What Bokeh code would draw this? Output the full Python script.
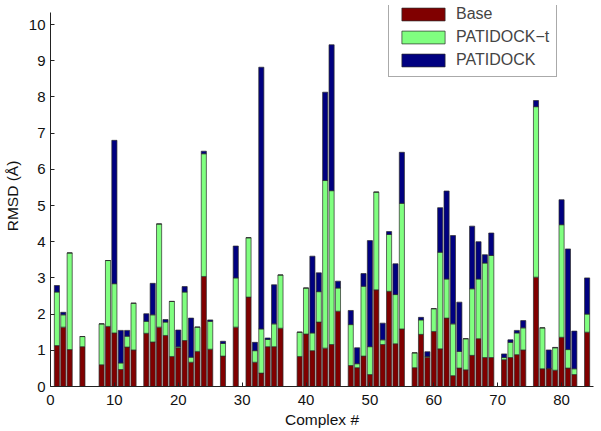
import numpy as np
from bokeh.plotting import figure
from bokeh.models import ColumnDataSource, Range1d, Legend, LegendItem, FixedTicker
from bokeh.embed import file_html
from bokeh.resources import INLINE

complexes = list(range(1, 85))
# cumulative tops (0 = no bar)
base_top = [1.13,1.64,1.02,0,1.10,0,0,0.60,1.66,1.48,0.47,1.09,1.01,0,1.47,1.23,1.64,1.41,0.83,1.07,
            1.27,0.67,0.97,3.04,1.03,0,0.84,0,1.64,0,2.47,0.67,0.37,1.10,1.10,1.61,0,0,0.83,1.45,
            0.99,1.78,1.06,1.16,2.08,0,0.58,0.52,0.84,0.33,2.67,1.16,2.63,1.18,1.59,0,0.52,1.44,0.81,1.52,
            1.04,1.89,0.30,0.51,0.46,0.86,1.32,0.80,0.80,0,0.74,0.80,0.88,1.01,0,3.02,0.49,0.49,0.45,1.36,
            0.51,0.33,0,1.50]
patidock_t_top = [2.61,1.98,3.69,0,1.38,0,0,1.73,3.48,2.84,0.65,1.39,2.30,0,1.80,1.98,4.49,1.78,2.35,1.10,
            2.61,0.81,1.64,6.43,1.80,0,1.19,0,3.00,0,4.11,0.99,1.59,1.30,1.73,3.08,0,0,1.50,2.72,
            1.48,2.62,5.69,5.41,2.72,0,1.71,0.63,2.77,1.10,5.37,1.29,4.20,2.54,5.06,0,0.93,1.84,0.83,2.15,
            3.71,2.97,1.73,0.97,1.32,2.70,2.97,3.41,3.62,0,0.80,1.22,1.48,1.62,0,7.73,1.62,0.50,1.07,4.47,
            1.02,0.49,0,2.00]
patidock_top = [2.79,2.05,3.69,0,1.38,0,0,1.73,3.48,6.80,1.55,1.55,2.30,0,2.01,2.85,4.49,1.85,2.35,1.56,
            2.76,1.89,1.64,6.50,1.84,0,1.25,0,3.88,0,4.11,1.22,8.82,1.34,2.81,3.08,0,0,1.50,2.72,
            3.60,3.14,8.13,9.44,2.91,0,2.10,1.07,3.12,4.03,5.37,1.75,4.28,3.39,6.47,0,0.93,1.91,0.96,2.15,
            4.94,5.40,4.17,2.33,1.32,4.43,4.00,3.64,4.24,0,0.90,1.29,1.55,1.82,0,7.90,1.62,1.01,1.08,5.16,
            3.80,1.53,0,3.00]
series_names = ["Base", "PATIDOCK\u2212t", "PATIDOCK"]
colors = ["#800000", "#80ff80", "#000080"]
x_ticks = [0, 10, 20, 30, 40, 50, 60, 70, 80]
y_ticks = list(range(0, 11))
y_axis_max = 10.33

mask = [i for i, v in enumerate(patidock_top) if v > 0]
x = [complexes[i] for i in mask]
b = [base_top[i] for i in mask]
t = [patidock_t_top[i] for i in mask]
p_ = [patidock_top[i] for i in mask]
src = ColumnDataSource(dict(x=x, zero=[0]*len(x), b=b, t=t, p=p_))

FONT = "Liberation Sans"
p = figure(width=600, height=430, output_backend="svg", toolbar_location=None,
           x_range=Range1d(0, 85), y_range=Range1d(0, 10.525),
           min_border_left=50, min_border_right=7, min_border_top=5, min_border_bottom=44)
p.outline_line_color = None
p.xgrid.visible = False
p.ygrid.visible = False

edge = "#2b2b2b"
r1 = p.vbar(x="x", bottom="zero", top="b", width=0.8, source=src, fill_color=colors[0], line_color=edge, line_width=0.7)
r2 = p.vbar(x="x", bottom="b", top="t", width=0.8, source=src, fill_color=colors[1], line_color=edge, line_width=0.7)
r3 = p.vbar(x="x", bottom="t", top="p", width=0.8, source=src, fill_color=colors[2], line_color=edge, line_width=0.7)

for ax in (p.xaxis[0], p.yaxis[0]):
    ax.major_tick_in = 4
    ax.major_tick_out = 0
    ax.minor_tick_line_color = None
    ax.axis_line_color = "#222222"
    ax.major_tick_line_color = "#222222"
    ax.major_label_text_font = FONT
    ax.major_label_text_font_size = "15px"
    ax.major_label_text_color = "#111111"
    ax.axis_label_text_font = FONT
    ax.axis_label_text_font_size = "15.5px"
    ax.axis_label_text_font_style = "normal"
    ax.axis_label_text_color = "#111111"
p.yaxis.bounds = (0, y_axis_max)
p.xaxis.ticker = FixedTicker(ticks=x_ticks)
p.yaxis.ticker = FixedTicker(ticks=y_ticks)
p.xaxis.axis_label = "Complex #"
p.yaxis.axis_label = "RMSD (\u00c5)"
p.xaxis.major_label_standoff = 8
p.xaxis.axis_label_standoff = 3
p.yaxis.major_label_standoff = 5
p.yaxis.axis_label_standoff = 5

legend = Legend(items=[LegendItem(label=series_names[0], renderers=[r1]),
                       LegendItem(label=series_names[1], renderers=[r2]),
                       LegendItem(label=series_names[2], renderers=[r3])],
                location=(338, 309), glyph_width=54, glyph_height=16, label_height=16,
                spacing=5, padding=7, label_standoff=6, margin=0,
                label_text_font=FONT, label_text_font_size="16px",
                border_line_color="#555555", border_line_width=1,
                background_fill_alpha=1)
p.add_layout(legend)

open("out.html", "w").write(file_html(p, INLINE))
